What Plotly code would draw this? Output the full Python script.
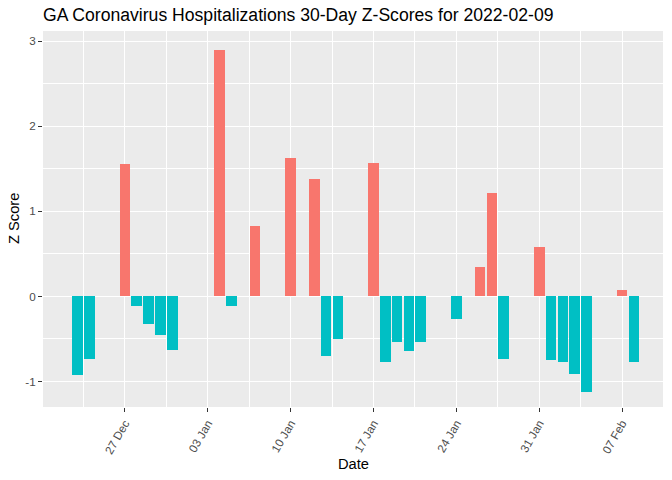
import plotly.graph_objects as go

dates = ["2021-12-23", "2021-12-24", "2021-12-27", "2021-12-28", "2021-12-29",
         "2021-12-30", "2021-12-31", "2022-01-04", "2022-01-05", "2022-01-07",
         "2022-01-10", "2022-01-12", "2022-01-13", "2022-01-14", "2022-01-17",
         "2022-01-18", "2022-01-19", "2022-01-20", "2022-01-21", "2022-01-24",
         "2022-01-26", "2022-01-27", "2022-01-28", "2022-01-31", "2022-02-01",
         "2022-02-02", "2022-02-03", "2022-02-04", "2022-02-07", "2022-02-08"]
z_scores = [-0.92, -0.73, 1.56, -0.11, -0.32,
            -0.45, -0.63, 2.90, -0.11, 0.83,
            1.63, 1.38, -0.70, -0.50, 1.57,
            -0.77, -0.54, -0.64, -0.53, -0.27,
            0.35, 1.22, -0.73, 0.58, -0.75,
            -0.77, -0.91, -1.12, 0.08, -0.77]

x_tick_vals = ["2021-12-27", "2022-01-03", "2022-01-10", "2022-01-17",
               "2022-01-24", "2022-01-31", "2022-02-07"]
x_tick_text = ["27 Dec", "03 Jan", "10 Jan", "17 Jan", "24 Jan", "31 Jan", "07 Feb"]
y_tick_vals = [-1, 0, 1, 2, 3]
y_tick_text = ["-1", "0", "1", "2", "3"]

POS = "#F8766D"
NEG = "#00BFC4"
colors = [POS if v > 0 else NEG for v in z_scores]

fig = go.Figure()
fig.add_trace(go.Bar(
    x=dates, y=z_scores, marker=dict(color=colors, line=dict(width=0)),
    width=0.9 * 86400000, showlegend=False,
))

W, H = 664, 472
grid = "white"
fig.update_layout(
    width=W, height=H,
    margin=dict(l=35, r=9, t=23, b=73, autoexpand=False),
    paper_bgcolor="white", plot_bgcolor="#EBEBEB",
    font=dict(family="Liberation Sans, Arial, sans-serif", color="#4D4D4D"),
    title=dict(text="GA Coronavirus Hospitalizations 30-Day Z-Scores for 2022-02-09",
               x=35 / W, xanchor="left", y=1 - 7 / H, yanchor="middle",
               font=dict(size=17.6, color="black")),
    bargap=0,
    annotations=[
        dict(text="Date", xref="paper", yref="paper", x=0.5, y=-57 / 376,
             xanchor="center", yanchor="middle", showarrow=False,
             font=dict(size=14.7, color="black")),
        dict(text="Z Score", xref="paper", yref="paper", x=-29 / 620, y=0.5,
             xanchor="center", yanchor="middle", textangle=-90, showarrow=False,
             font=dict(size=14.7, color="black")),
    ],
)
fig.update_xaxes(
    type="date", automargin=False,
    range=["2021-12-20 02:00", "2022-02-10 11:00"],
    tickmode="array", tickvals=x_tick_vals, ticktext=x_tick_text,
    tickangle=-60, tickfont=dict(size=11.7, color="#4D4D4D"),
    ticks="outside", ticklen=4, tickcolor="#333333", tickwidth=1,
    showgrid=True, gridcolor=grid, gridwidth=1.4,
    minor=dict(tick0="2021-12-23 12:00", dtick=7 * 86400000, showgrid=True,
               gridcolor=grid, gridwidth=0.7, ticks=""),
    zeroline=False, showline=False,
)
fig.update_yaxes(
    automargin=False,
    range=[-1.3, 3.12],
    tickmode="array", tickvals=y_tick_vals, ticktext=y_tick_text,
    tickfont=dict(size=11.7, color="#4D4D4D"),
    ticks="outside", ticklen=4, tickcolor="#333333", tickwidth=1,
    showgrid=True, gridcolor=grid, gridwidth=1.4,
    minor=dict(tick0=-0.5, dtick=1, showgrid=True, gridcolor=grid,
               gridwidth=0.7, ticks=""),
    zeroline=False, showline=False,
)

fig.write_html("out.html")
